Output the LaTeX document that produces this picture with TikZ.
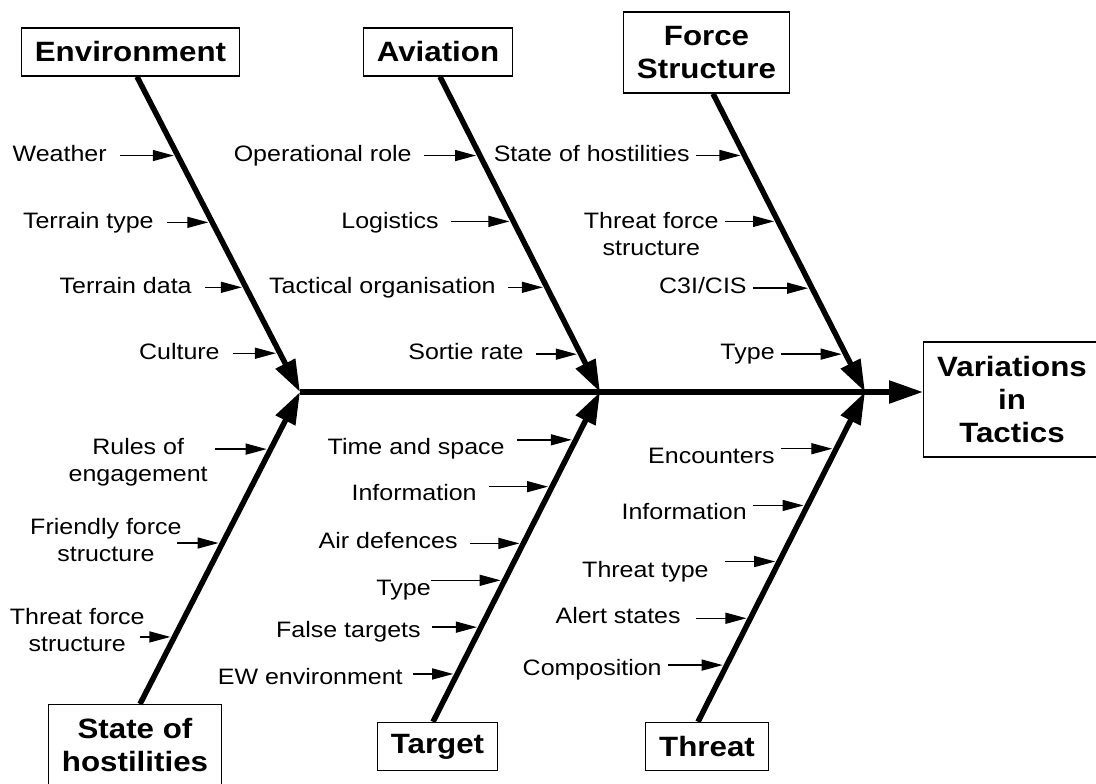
\documentclass[tikz,border=0pt]{standalone}
\usepackage{fontspec}
\setmainfont[FakeStretch=1.12]{Liberation Sans}
\usetikzlibrary{arrows.meta}
\newcommand{\causefont}{\fontsize{12.7}{15.4}\selectfont}
\newcommand{\hdrfont}{\fontsize{15.9}{18.8}\selectfont\bfseries}
\tikzset{
  hdr/.style={draw, line width=0.8pt, fill=white, align=center, inner xsep=0.27cm,
              inner ysep=0.1cm, minimum height=0.96cm, font=\hdrfont},
  cause/.style={anchor=base east, inner sep=0pt, font=\causefont},
  cause2/.style={anchor=north east, inner sep=0pt, align=center, font=\causefont},
  bone/.style={-{Triangle[length=0.64cm,width=0.42cm]}, line width=0.11cm},
  sub/.style={-{Triangle[length=0.42cm,width=0.22cm]}, line width=0.8pt,
              shorten <=0.24cm, shorten >=0.08cm},
}

\begin{document}
\begin{tikzpicture}
  \path[use as bounding box, fill=white] (0,0) rectangle (21.92,15.66);
  % junctions on the spine
  \coordinate (j1) at (6.0,7.82);
  \coordinate (j2) at (12.0,7.82);
  \coordinate (j3) at (17.3,7.82);
  % category boxes
  \node[hdr] (env)    at (2.61,14.62) {Environment};
  \node[hdr] (avia)   at (8.76,14.62) {Aviation};
  \node[hdr, minimum height=1.62cm] (force) at (14.13,14.61) {Force\\Structure};
  \node[hdr, anchor=north, minimum height=1.6cm] (soh) at (2.7,1.58) {State of\\hostilities};
  \node[hdr] (target) at (8.75,0.73) {Target};
  \node[hdr] (threat) at (14.14,0.73) {Threat};
  \node[hdr, minimum height=2.3cm] (res) at (20.24,7.67) {Variations\\in\\Tactics};
  % spine and bones
  \draw[bone, -{Triangle[length=0.68cm,width=0.44cm]}] (j1) -- (j1 -| res.west);
  \draw[bone] ([xshift=0.13cm]env.south) -- (j1)
    coordinate[pos=0.250] (e1) coordinate[pos=0.462] (e2)
    coordinate[pos=0.668] (e3) coordinate[pos=0.877] (e4);
  \draw[bone] ([xshift=0.04cm]avia.south) -- (j2)
    coordinate[pos=0.250] (a1) coordinate[pos=0.459] (a2)
    coordinate[pos=0.668] (a3) coordinate[pos=0.880] (a4);
  \draw[bone] ([xshift=0.13cm]force.south) -- (j3)
    coordinate[pos=0.207] (f1) coordinate[pos=0.428] (f2)
    coordinate[pos=0.652] (f3) coordinate[pos=0.873] (f4);
  \draw[bone] ([xshift=0.1cm]soh.north) -- (j1)
    coordinate[pos=0.215] (s1) coordinate[pos=0.516] (s2) coordinate[pos=0.817] (s3);
  \draw[bone] ([xshift=-0.09cm]target.north) -- (j2)
    coordinate[pos=0.145] (t1) coordinate[pos=0.287] (t2) coordinate[pos=0.429] (t3)
    coordinate[pos=0.541] (t4) coordinate[pos=0.713] (t5) coordinate[pos=0.855] (t6);
  \draw[bone] ([xshift=-0.18cm]threat.north) -- (j3)
    coordinate[pos=0.172] (h1) coordinate[pos=0.314] (h2) coordinate[pos=0.486] (h3)
    coordinate[pos=0.656] (h4) coordinate[pos=0.828] (h5);
  % environment
  \node[cause] (weather) at (2.14,12.44) {Weather};
  \node[cause] (ttype)   at (3.08,11.10) {Terrain type};
  \node[cause] (tdata)   at (3.84,9.80)  {Terrain data};
  \node[cause] (culture) at (4.40,8.48)  {Culture};
  \draw[sub, shorten <=0.26cm] (weather.east |- e1) -- (e1);
  \draw[sub, shorten <=0.26cm] (ttype.east |- e2) -- (e2);
  \draw[sub, shorten <=0.26cm] (tdata.east |- e3) -- (e3);
  \draw[sub, shorten <=0.26cm] (culture.east |- e4) -- (e4);
  % aviation
  \node[cause] (oprole) at (8.24,12.44) {Operational role};
  \node[cause] (logist) at (8.78,11.10) {Logistics};
  \node[cause] (tacorg) at (9.92,9.80)  {Tactical organisation};
  \node[cause] (sortie) at (10.48,8.48) {Sortie rate};
  \draw[sub] (oprole.east |- a1) -- (a1);
  \draw[sub] (logist.east |- a2) -- (a2);
  \draw[sub] (tacorg.east |- a3) -- (a3);
  \draw[sub] (sortie.east |- a4) -- (a4);
  % force structure
  \node[cause]  (hostil) at (13.80,12.44) {State of hostilities};
  \node[cause2] (tfs1)   at (14.38,11.42) {Threat force\\structure};
  \node[cause]  (c3i)    at (14.94,9.80)  {C3I/CIS};
  \node[cause]  (ftype)  at (15.50,8.48)  {Type};
  \draw[sub, shorten <=0.12cm] (hostil.east |- f1) -- (f1);
  \draw[sub, shorten <=0.12cm] (tfs1.east |- f2) -- (f2);
  \draw[sub, shorten <=0.12cm] (c3i.east |- f3) -- (f3);
  \draw[sub, shorten <=0.12cm] (ftype.east |- f4) -- (f4);
  % state of hostilities
  \node[cause2] (roe)  at (4.16,6.90) {Rules of\\engagement};
  \node[cause2] (ffs)  at (3.64,5.30) {Friendly force\\structure};
  \node[cause2] (tfs2) at (2.90,3.50) {Threat force\\structure};
  \draw[sub, shorten <=0.14cm] (roe.east |- s3) -- (s3);
  \draw[sub, shorten <=-0.1cm] (ffs.east |- s2) -- (s2);
  \draw[sub, shorten <=-0.1cm] (tfs2.east |- s1) -- (s1);
  % target
  \node[cause] (tspace) at (10.10,6.58) {Time and space};
  \node[cause] (tinfo)  at (9.54,5.66)  {Information};
  \node[cause] (airdef) at (9.16,4.70)  {Air defences};
  \node[cause] (ttgt)   at (8.62,3.76)  {Type};
  \node[cause] (falset) at (8.42,2.92)  {False targets};
  \node[cause] (ewenv)  at (8.06,1.98)  {EW environment};
  \draw[sub] (tspace.east |- t6) -- (t6);
  \draw[sub] (tinfo.east |- t5) -- (t5);
  \draw[sub] (airdef.east |- t4) -- (t4);
  \draw[sub, shorten <=0pt] (ttgt.east |- t3) -- (t3);
  \draw[sub, shorten <=0.22cm] (falset.east |- t2) -- (t2);
  \draw[sub, shorten <=0.2cm] (ewenv.east |- t1) -- (t1);
  % threat
  \node[cause] (encount) at (15.50,6.40) {Encounters};
  \node[cause] (hinfo)   at (14.94,5.28) {Information};
  \node[cause] (thtype)  at (14.18,4.12) {Threat type};
  \node[cause] (alert)   at (13.62,3.20) {Alert states};
  \node[cause] (compos)  at (13.24,2.16) {Composition};
  \draw[sub, shorten <=0.12cm] (encount.east |- h5) -- (h5);
  \draw[sub, shorten <=0.12cm] (hinfo.east |- h4) -- (h4);
  \draw[sub, shorten <=0.32cm] (thtype.east |- h3) -- (h3);
  \draw[sub, shorten <=0.3cm]  (alert.east |- h2) -- (h2);
  \draw[sub, shorten <=0.12cm] (compos.east |- h1) -- (h1);
\end{tikzpicture}
\end{document}
